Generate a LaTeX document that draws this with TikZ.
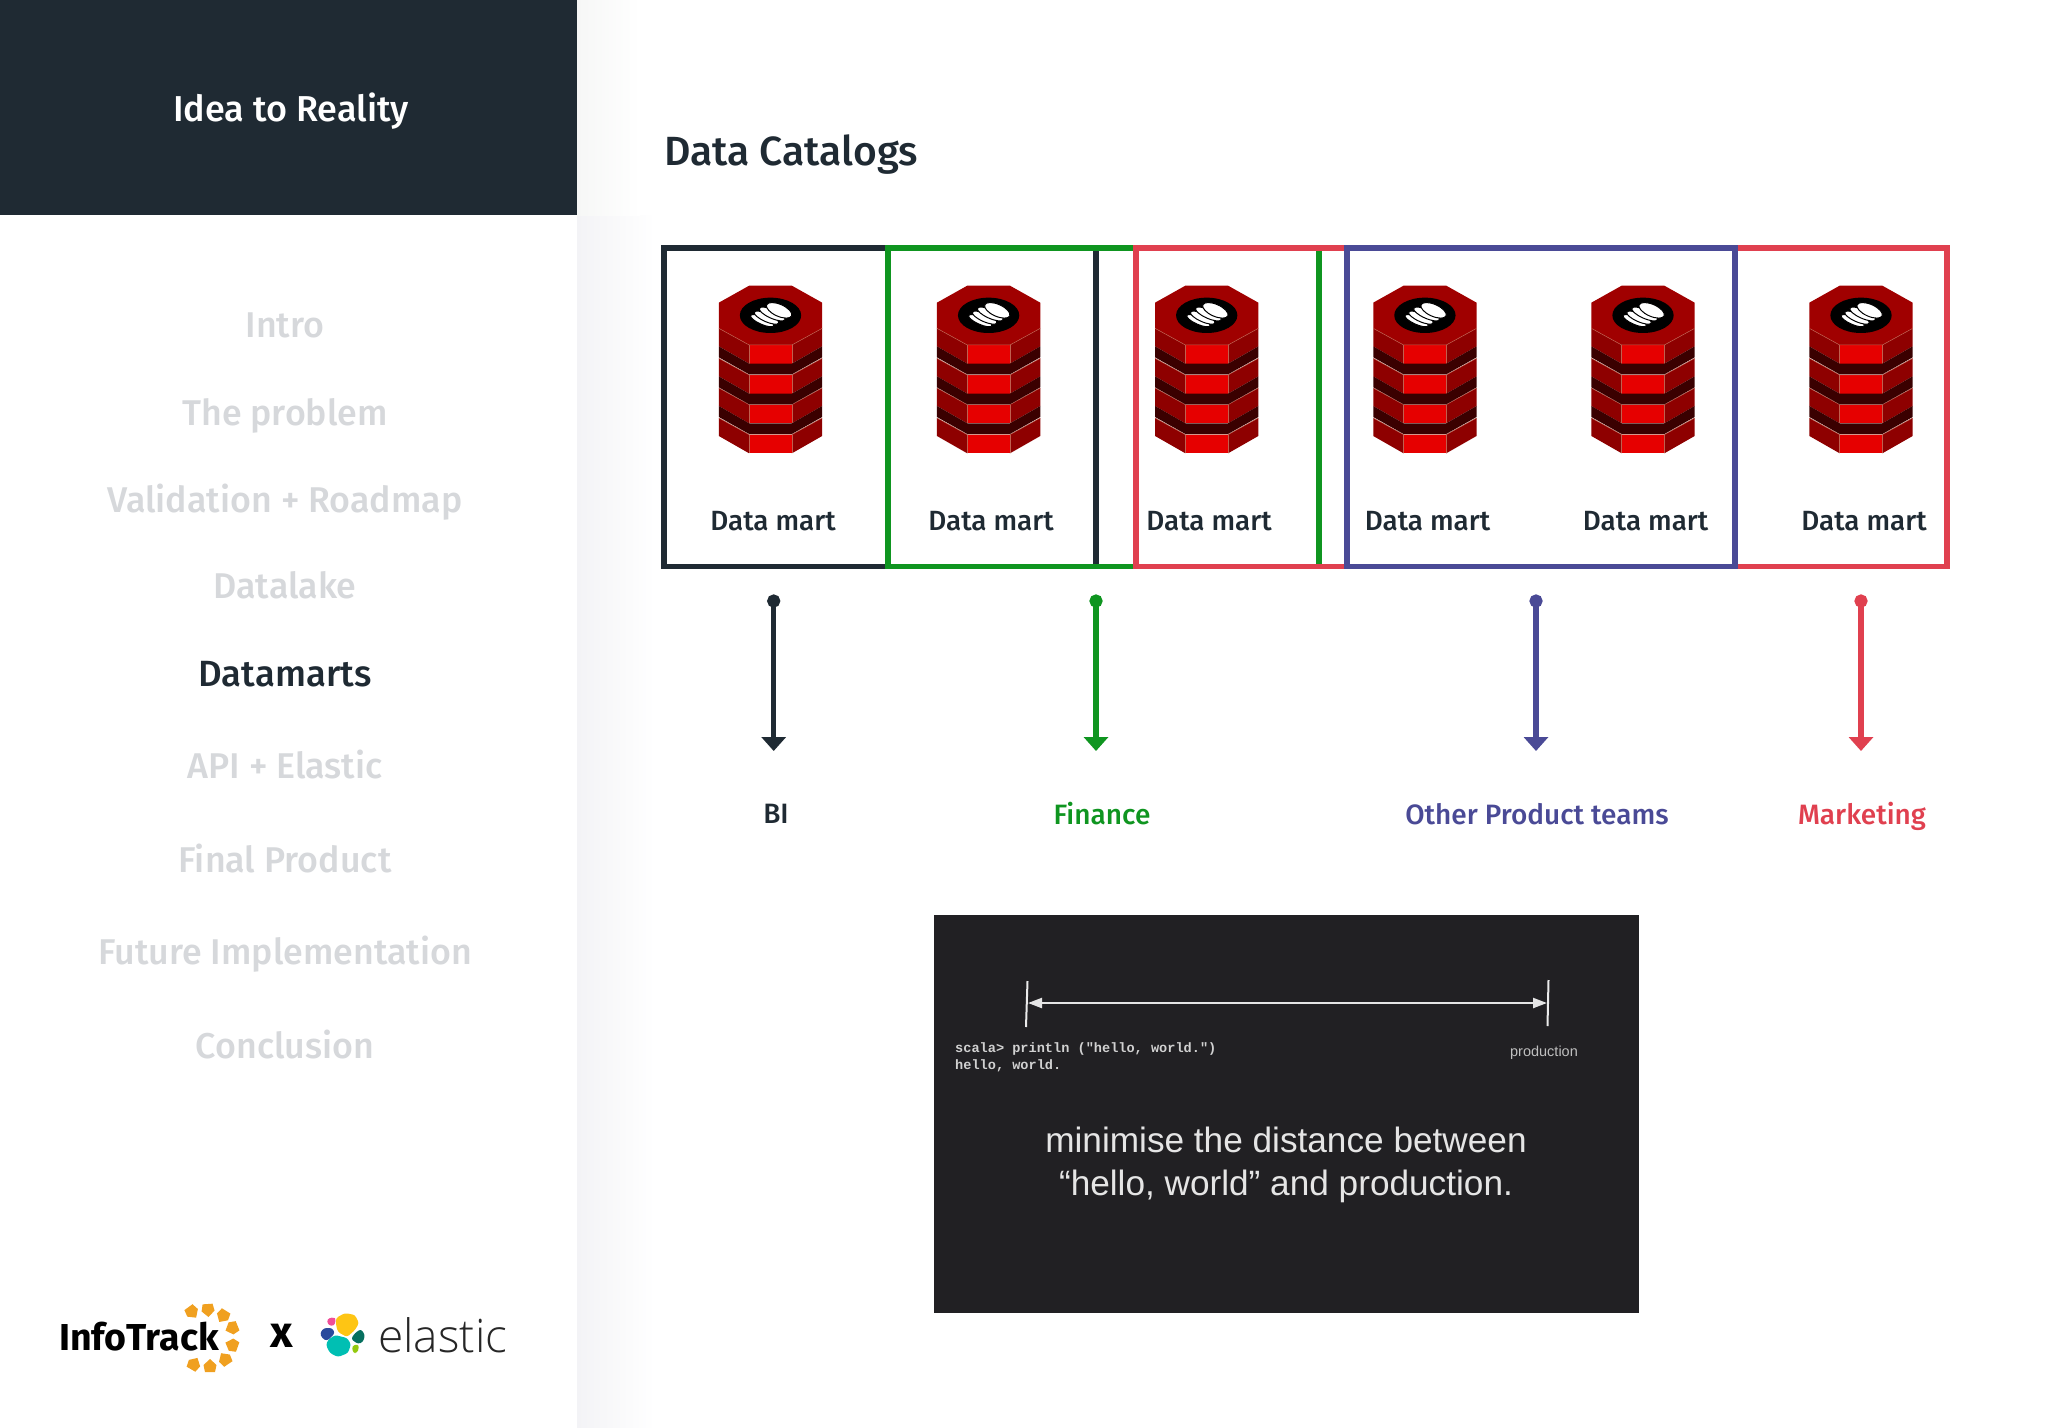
\documentclass[tikz,border=0pt]{standalone}
\usepackage{fontspec}
\usetikzlibrary{arrows.meta}
\setmainfont{Fira Sans}
\newfontfamily\medf{Fira Sans Medium}
\newfontfamily\boldf{Fira Sans}
\newfontfamily\monof{Liberation Mono}
\newfontfamily\arialf{Liberation Sans}
\newfontfamily\lightf{Open Sans Light}
\definecolor{ink}{HTML}{1F2A33}
\definecolor{navgrey}{HTML}{D6D8DB}
\definecolor{cgreen}{HTML}{0F9520}
\definecolor{cblue}{HTML}{4A4A96}
\definecolor{cred}{HTML}{E0404F}
\definecolor{panel}{HTML}{212023}
\definecolor{shadeg}{HTML}{F3F3F6}
\definecolor{shadet}{HTML}{F6F7F6}
\definecolor{dbtop}{HTML}{A00000}
\definecolor{dbside}{HTML}{8E0000}
\definecolor{dbfront}{HTML}{E60000}
\definecolor{dbband}{HTML}{3A0000}
\definecolor{dbedge}{HTML}{C0604F}
\definecolor{orng}{HTML}{F0A020}
\definecolor{eyellow}{HTML}{FEC514}
\definecolor{eteal}{HTML}{00BFB3}
\definecolor{enavy}{HTML}{2A4A9C}
\definecolor{epink}{HTML}{F04E98}
\definecolor{egreen}{HTML}{07705F}
\definecolor{elime}{HTML}{93C90E}
\tikzset{
  navtext/.style={font=\medf\fontsize{35.8}{40}\selectfont,text=navgrey,anchor=center,inner sep=0pt},
  martlabel/.style={font=\medf\fontsize{27.8}{30}\selectfont,text=ink,anchor=center,inner sep=0pt},
  teamlabel/.style={font=\medf\fontsize{28}{32}\selectfont,anchor=center,inner sep=0pt},
  framebox/.style={line width=5.5pt,draw=#1},
  flow/.style={line width=5.5pt,color=#1,{Circle[length=13pt,width=13pt]}-{Triangle[width=24pt,length=14pt]}},
  monotext/.style={font=\monof\bfseries\fontsize{13.6}{15}\selectfont,text=white!82!black,anchor=west,inner sep=0pt},
  bigtext/.style={font=\arialf\fontsize{35.2}{40}\selectfont,text=white!90!black,anchor=center,inner sep=0pt},
  tick/.style={line width=2pt,draw=white!92!black},
  blob/.style={fill=#1,rounded corners=2.5pt},
  stripe/.style={fill=white,draw=black,line width=1pt},
}
\newcommand{\dbstack}[1]{%
\begin{scope}[shift={(#1pt,-260pt)},x=0.3333pt,y=-0.3333pt]
 \fill[dbtop] (-64,77)--(64,77)--(155,128)--(155,205)--(64,255)--(-64,255)--(-155,205)--(-155,128)--cycle;
 \foreach \T in {255,345,434,524}{
  \fill[dbside] (-155,\T-50)--(-64,\T)--(-64,\T+56)--(-155,\T+4)--cycle;
  \fill[dbside] (155,\T-50)--(64,\T)--(64,\T+56)--(155,\T+4)--cycle;
  \fill[dbfront] (-64,\T) rectangle (64,\T+56);
  \draw[dbedge,line width=.5pt] (-155,\T-50)--(-64,\T)--(64,\T)--(155,\T-50);
  \draw[dbedge,line width=.4pt] (-64,\T)--(-64,\T+56) (64,\T)--(64,\T+56);
 }
 \foreach \T in {255,345,434}{
  \fill[dbband] (-155,\T+4)--(-64,\T+56)--(64,\T+56)--(155,\T+4)--(155,\T+37)--(64,\T+88)--(-64,\T+88)--(-155,\T+37)--cycle;
 }
 \fill[black] (0,166) ellipse[x radius=92,y radius=53];
 \filldraw[stripe,rotate around={-24:(-25,182)}] (-25,182) ellipse[x radius=38,y radius=11];
 \filldraw[stripe,rotate around={-24:(-12,173)}] (-12,173) ellipse[x radius=40,y radius=12];
 \filldraw[stripe,rotate around={-24:(5,162)}] (5,162) ellipse[x radius=42,y radius=13];
 \filldraw[stripe,rotate around={-24:(26,151)}] (26,151) ellipse[x radius=41,y radius=18];
\end{scope}}
\begin{document}
\begin{tikzpicture}[x=1pt,y=-1pt]
\useasboundingbox (0,0) rectangle (2048,1427);
\fill[white] (0,0) rectangle (2048,1427);
\shade[left color=shadeg,right color=white] (577,215) rectangle (655,1427);
\shade[left color=shadet,right color=white] (577,0) rectangle (640,215);
\fill[ink] (0,0) rectangle (577,215);
\node[font=\medf\fontsize{36}{40}\selectfont,text=white,inner sep=0pt] (title) at (291,111) {Idea to Reality};
\node[font=\medf\fontsize{40.8}{44}\selectfont,text=ink,anchor=west,inner sep=0pt] (cat) at (664,155) {Data Catalogs};
\node[navtext] (n1) at (285,325) {Intro};
\node[navtext] (n2) at (285,415.5) {The problem};
\node[navtext] (n3) at (285,502.5) {Validation + Roadmap};
\node[navtext] (n4) at (285,585.5) {Datalake};
\node[navtext,text=ink,font=\medf\fontsize{36.5}{40}\selectfont] (n5) at (285,674) {Datamarts};
\node[navtext] (n6) at (285,764.5) {API + Elastic};
\node[navtext] (n7) at (285,858) {Final Product};
\node[navtext] (n8) at (285,954.5) {Future Implementation};
\node[navtext] (n9) at (285,1044.5) {Conclusion};
% frames
\draw[framebox=ink] (664,248) rectangle (1096,566.5);
\draw[framebox=cgreen] (888,248) rectangle (1319,566.5);
\draw[framebox=cred] (1136,248) rectangle (1947,566.5);
\draw[framebox=cblue] (1347,248) rectangle (1735,566.5);
% stacks
\foreach \c in {770.5,988.6,1206.7,1424.9,1643,1861}{\dbstack{\c}}
\node[martlabel] (m1) at (773,521) {Data mart};
\node[martlabel] (m2) at (991,521) {Data mart};
\node[martlabel] (m3) at (1209,521) {Data mart};
\node[martlabel] (m4) at (1427.5,521) {Data mart};
\node[martlabel] (m5) at (1645.6,521) {Data mart};
\node[martlabel] (m6) at (1864,521) {Data mart};
% flows
\coordinate (a1) at (773.7,594.5); \coordinate (b1) at (773.7,751);
\coordinate (a2) at (1096,594.5); \coordinate (b2) at (1096,751);
\coordinate (a3) at (1536,594.5); \coordinate (b3) at (1536,751);
\coordinate (a4) at (1861,594.5); \coordinate (b4) at (1861,751);
\draw[flow=ink] (a1)--(b1);
\draw[flow=cgreen] (a2)--(b2);
\draw[flow=cblue] (a3)--(b3);
\draw[flow=cred] (a4)--(b4);
\node[teamlabel,text=ink] (t1) at (776,814) {BI};
\node[teamlabel,text=cgreen] (t2) at (1102,814) {Finance};
\node[teamlabel,text=cblue] (t3) at (1537,814) {Other Product teams};
\node[teamlabel,text=cred] (t4) at (1862,816) {Marketing};
% panel
\fill[panel] (934,915) rectangle (1639,1312.5);
\coordinate (l1) at (1027.5,981); \coordinate (l2) at (1026,1027);
\coordinate (r1) at (1548.5,980); \coordinate (r2) at (1547.5,1026);
\coordinate (s1) at (1028,1003); \coordinate (s2) at (1547,1003);
\draw[tick] (l1)--(l2);
\draw[tick] (r1)--(r2);
\draw[line width=2.2pt,draw=white!90!black,{Triangle[width=10pt,length=14pt]}-{Triangle[width=10pt,length=14pt]}] (s1)--(s2);
\node[monotext] (c1) at (955,1049) {scala> println ("hello, world.")};
\node[monotext] (c2) at (955,1065.7) {hello, world.};
\node[font=\arialf\fontsize{14.5}{17}\selectfont,text=white!75!black,inner sep=0pt] (prod) at (1544,1052.6) {production};
\node[bigtext] (b1t) at (1286,1140) {minimise the distance between};
\node[bigtext] (b2t) at (1286,1186) {“hello, world” and production.};
% logos
\node[font=\boldf\bfseries\fontsize{37.5}{44}\selectfont,text=black,anchor=west,inner sep=0pt] (info) at (59,1337) {InfoTrack};
\foreach \x/\y/\a in {192/1312/-54,208/1310/-86,223/1316/-122,232/1328/-158,232/1345/160,225/1359/124,210/1366/90,194/1364/60}{
 \fill[orng,shift={(\x pt,-\y pt)},rotate=\a] (7,0)--(1,6.5)--(-6,5)--(-6,-5)--(1,-6.5)--cycle;
}
\node[font=\boldf\bfseries\fontsize{44}{46}\selectfont,text=black,inner sep=0pt] (xx) at (282,1336) {x};
\fill[blob=eyellow] (336,1318)--(345,1313)--(355,1315)--(359,1323)--(355,1330)--(347,1337)--(338,1332)--(336,1325)--cycle;
\fill[blob=eteal] (335,1335)--(347,1338)--(351,1344)--(348,1353)--(338,1357)--(330,1353)--(326,1345)--(328,1340)--cycle;
\fill[blob=enavy] (324,1328)--(332,1328)--(335,1333)--(327,1341)--(322,1338)--(320,1333)--cycle;
\fill[blob=epink] (327,1319)--(334,1317)--(336,1320)--(334,1326)--(328,1325)--cycle;
\fill[blob=egreen] (361,1329)--(365,1335)--(363,1342)--(358,1344)--(351,1339)--(355,1333)--cycle;
\fill[blob=elime] (352,1346)--(358,1344)--(359,1348)--(357,1353)--(353,1353)--cycle;
\node[font=\lightf\fontsize{46}{50}\selectfont,text=black!85,anchor=west,inner sep=0pt] (el) at (378,1335) {elastic};
\end{tikzpicture}
\end{document}
